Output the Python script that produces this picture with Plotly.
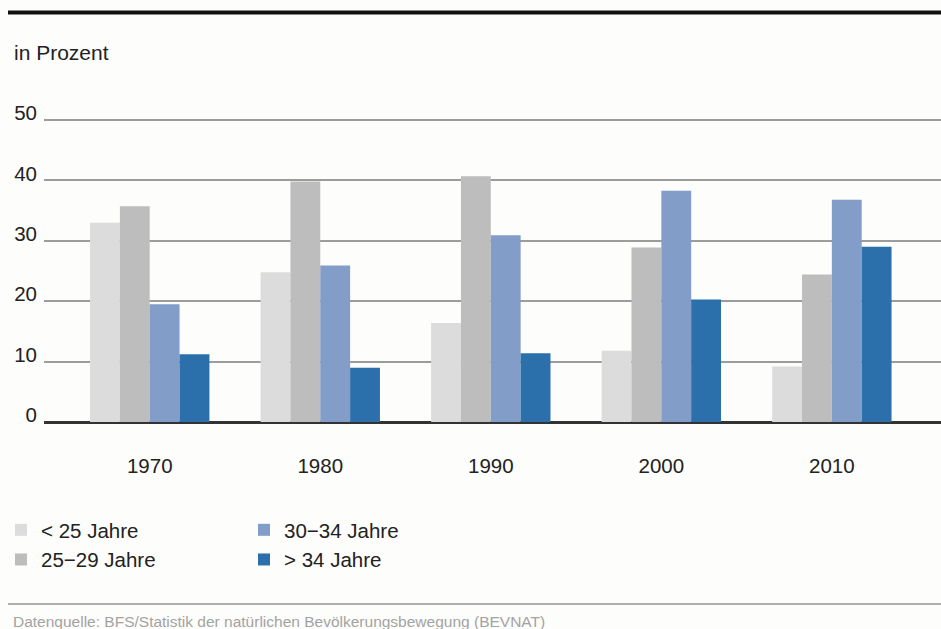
import plotly.graph_objects as go

# Birth shares by age group of the mother, Switzerland
years = ["1970", "1980", "1990", "2000", "2010"]
series_names = ["< 25 Jahre", "25\u221229 Jahre", "30\u221234 Jahre", "> 34 Jahre"]
under_25 = [33.0, 24.8, 16.4, 11.8, 9.2]
age_25_29 = [35.7, 39.8, 40.7, 28.9, 24.4]
age_30_34 = [19.5, 25.9, 30.9, 38.3, 36.8]
over_34 = [11.2, 9.0, 11.4, 20.3, 29.0]
y_ticks = [0, 10, 20, 30, 40, 50]

values = [under_25, age_25_29, age_30_34, over_34]
colors = ["#dcdcdc", "#bdbdbd", "#839dc9", "#2b6fab"]
legends = ["legend", "legend", "legend2", "legend2"]

W, H = 941, 629
L, R, T, B = 44, 0, 118, 207
plot_w = W - L - R
plot_h = H - T - B
Y_MAX = 50 * plot_h / 302.0  # keep the 50 gridline inside the plot area


def px_x(px):
    return (px - L) / plot_w


def px_y(py):
    return (H - B - py) / plot_h


FONT = "Liberation Sans, Arial, sans-serif"
TEXT = "#222222"

fig = go.Figure()
xpos = list(range(len(years)))
for name, vals, col, lg in zip(series_names, values, colors, legends):
    fig.add_trace(go.Bar(
        x=xpos, y=vals, name=name, legend=lg,
        marker=dict(color=col, line=dict(width=0)),
    ))

fig.update_layout(
    width=W, height=H,
    margin=dict(l=L, r=R, t=T, b=B),
    paper_bgcolor="#fdfdfb",
    plot_bgcolor="#fdfdfb",
    barmode="group", bargap=0.3, bargroupgap=0,
    font=dict(family=FONT, size=20.5, color=TEXT),
    xaxis=dict(
        range=[-0.62, 4.64], tickvals=xpos, ticktext=years,
        showgrid=False, zeroline=False, showline=False, ticks="",
        ticklabelstandoff=29, tickfont=dict(size=20.5, color=TEXT),
        fixedrange=True,
    ),
    yaxis=dict(
        range=[0, Y_MAX], tickvals=y_ticks, ticktext=[str(v) for v in y_ticks],
        showgrid=True, gridcolor="#9c9c9c", gridwidth=1.5,
        zeroline=True, zerolinecolor="#333333", zerolinewidth=2.5,
        showline=False, ticks="", ticklabelstandoff=6, ticklabelshift=-7,
        tickfont=dict(size=20.5, color=TEXT), fixedrange=True,
    ),
    legend=dict(
        x=px_x(1), y=px_y(510), xanchor="left", yanchor="top",
        orientation="v", bgcolor="rgba(0,0,0,0)", borderwidth=0,
        font=dict(size=20.5, color=TEXT), tracegroupgap=0,
    ),
    legend2=dict(
        x=px_x(244), y=px_y(510), xanchor="left", yanchor="top",
        orientation="v", bgcolor="rgba(0,0,0,0)", borderwidth=0,
        font=dict(size=20.5, color=TEXT), tracegroupgap=0,
    ),
    showlegend=True,
)

# Heavy rule across the top and thin rule above the source line
fig.add_shape(type="line", xref="paper", yref="paper",
              x0=px_x(8), x1=px_x(W), y0=px_y(12.5), y1=px_y(12.5),
              line=dict(color="#111111", width=4))
fig.add_shape(type="line", xref="paper", yref="paper",
              x0=px_x(8), x1=px_x(W), y0=px_y(604), y1=px_y(604),
              line=dict(color="#b0b0b0", width=2))

fig.add_annotation(text="in Prozent", xref="paper", yref="paper",
                   x=px_x(12), y=px_y(52), xanchor="left", yanchor="middle",
                   showarrow=False, font=dict(size=21, color=TEXT))
fig.add_annotation(
    text="Datenquelle: BFS/Statistik der nat\u00fcrlichen Bev\u00f6lkerungsbewegung (BEVNAT)",
    xref="paper", yref="paper", x=px_x(11), y=px_y(621),
    xanchor="left", yanchor="middle", showarrow=False,
    font=dict(size=15.5, color="#a3a3a3"))

fig.write_html("out.html")
